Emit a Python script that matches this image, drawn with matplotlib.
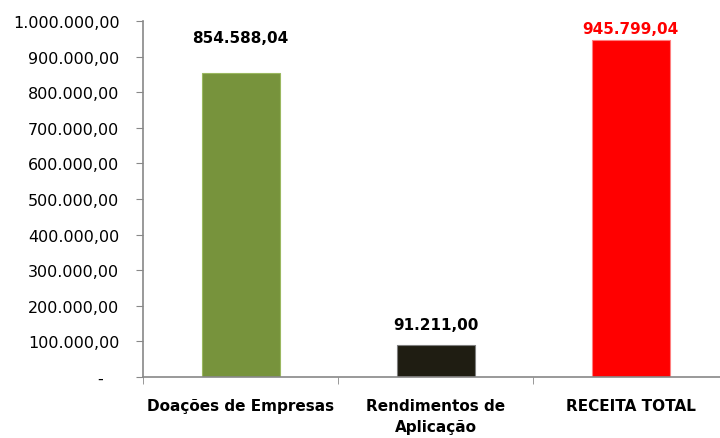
import matplotlib
matplotlib.use("Agg")
import matplotlib.pyplot as plt
from matplotlib.ticker import FuncFormatter, FixedLocator

# Data
categories = ["Doações de Empresas", "Rendimentos de\nAplicação", "RECEITA TOTAL"]
values = [854588.04, 91211.00, 945799.04]
bar_colors = ["#77933C", "#1F1D12", "#FF0000"]
edge_colors = ["#9BB860", "#7F7F7F", "#FF7F7F"]
label_colors = ["black", "black", "#FF0000"]
yticks = [0, 100000, 200000, 300000, 400000, 500000, 600000, 700000, 800000, 900000, 1000000]


def br_fmt(v, pos=None):
    if v == 0:
        return "-   "
    s = f"{v:,.2f}"
    return s.replace(",", "X").replace(".", ",").replace("X", ".")


fig = plt.figure(figsize=(7.2, 4.39), dpi=100)
ax = fig.add_axes([143 / 720, 1 - 378 / 439, 585 / 720, (378 - 22) / 439])

x = range(len(categories))
bars = ax.bar(x, values, width=0.4, color=bar_colors, edgecolor=edge_colors, linewidth=0.8)

# value labels (offsets in points above the bar top)
offsets = [20, 9, 3]
for b, v, c, off in zip(bars, values, label_colors, offsets):
    ax.annotate(br_fmt(v), (b.get_x() + b.get_width() / 2, b.get_height()),
                xytext=(0, off), textcoords="offset points",
                ha="center", va="bottom", fontsize=11, fontweight="bold", color=c)

ax.set_xlim(-0.5, 2.5)
ax.set_ylim(0, 1000000)
ax.set_yticks(yticks)
ax.yaxis.set_major_formatter(FuncFormatter(br_fmt))

ax.set_xticks(list(x))
ax.set_xticklabels(categories, fontsize=11, fontweight="bold", linespacing=1.5)
ax.xaxis.set_minor_locator(FixedLocator([-0.5, 0.5, 1.5, 2.5]))
ax.tick_params(axis="x", which="major", length=0, pad=15)
ax.tick_params(axis="x", which="minor", length=5, color="#888888", direction="out")
ax.tick_params(axis="y", length=5, color="#888888", direction="out", pad=12, labelsize=11.5)

for s in ["top", "right"]:
    ax.spines[s].set_visible(False)
for s in ["left", "bottom"]:
    ax.spines[s].set_color("#888888")
    ax.spines[s].set_linewidth(1.2)

fig.savefig("out.png", dpi=100)
